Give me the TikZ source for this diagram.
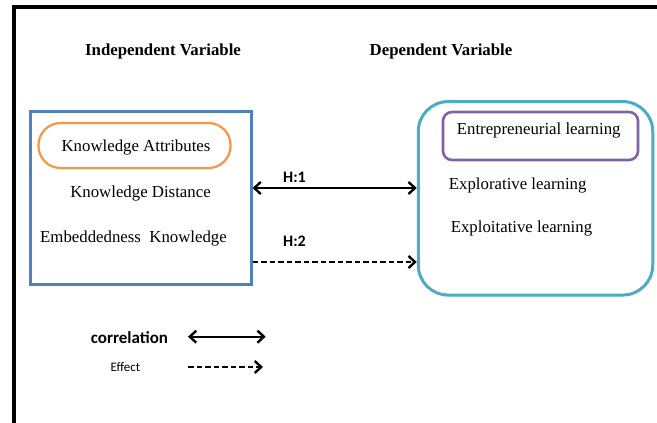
\documentclass[tikz,border=0pt]{standalone}
\usepackage{fontspec}
\setmainfont{Liberation Serif}
\newfontfamily\calfont{Carlito}
\usetikzlibrary{arrows.meta}
\definecolor{boxblue}{HTML}{4F81BD}
\definecolor{boxteal}{HTML}{4BACC6}
\definecolor{boxpurple}{HTML}{8064A2}
\definecolor{boxorange}{HTML}{F79646}
\tikzset{
  serif/.style={font=\fontsize{16.8}{20}\selectfont, inner sep=0pt},
  title/.style={font=\fontsize{16.8}{20}\selectfont\bfseries, inner sep=0pt},
  hlabel/.style={font=\calfont\fontsize{16}{19}\selectfont\bfseries, inner sep=0pt},
  corr/.style={line width=2.4pt, {Straight Barb[length=6.5pt,width=12pt]}-{Straight Barb[length=6.5pt,width=12pt]}},
  eff/.style={line width=2.4pt, dash pattern=on 5.5pt off 3pt, -{Straight Barb[length=6.5pt,width=12pt]}},
}
\begin{document}
\begin{tikzpicture}[x=1pt,y=-1pt]
\useasboundingbox (0,0) rectangle (657,423);
\fill[white] (0,0) rectangle (657,423);
% frame
\draw[line width=4pt] (13.5,423) -- (13.5,6.8) -- (657,6.8);
% titles
\node[title] (tind) at (163,51.5) {Independent Variable};
\node[title] (tdep) at (441,51.5) {Dependent Variable};
% left box
\node[draw=boxblue, line width=3pt, minimum width=221pt, minimum height=173pt, inner sep=0pt] (lbox) at (140.5,197.5) {};
\node[draw=boxorange, line width=2.2pt, minimum width=192pt, minimum height=45pt, rounded corners=22pt, inner sep=0pt] (pill) at (134.5,145.5) {};
\node[serif] (ka) at (136,147) {Knowledge Attributes};
\node[serif] (kd) at (140.5,193.5) {Knowledge Distance};
\node[serif] (ek) at (133.5,238.5) {Embeddedness\ \ Knowledge};
% right box
\node[draw=boxteal, line width=3pt, minimum width=234.5pt, minimum height=193.5pt, rounded corners=30pt, inner sep=0pt] (rbox) at (535.5,198.3) {};
\node[draw=boxpurple, line width=2.6pt, minimum width=195pt, minimum height=48pt, rounded corners=9pt, inner sep=0pt] (pbox) at (540.5,136) {};
\node[serif] (el) at (538.7,130.5) {Entrepreneurial learning};
\node[serif] (xl) at (517.7,185) {Explorative learning};
\node[serif] (xt) at (521.5,228.3) {Exploitative learning};
% hypotheses
\coordinate (y1) at (0,188);
\coordinate (y2) at (0,262);
\draw[corr] (lbox.east |- y1) -- (rbox.west |- y1);
\draw[eff] (lbox.east |- y2) -- (rbox.west |- y2);
\node[hlabel] (h1) at (294.5,177) {H:1};
\node[hlabel] (h2) at (294.5,241.5) {H:2};
% legend
\node[font=\calfont\fontsize{17}{20}\selectfont\bfseries, inner sep=0pt] (lc) at (129.5,337.5) {correlation};
\node[font=\calfont\fontsize{13}{16}\selectfont, inner sep=0pt] (le) at (125.5,367) {Effect};
\coordinate (c1) at (188,336.7);
\coordinate (c2) at (265.7,336.7);
\coordinate (e1) at (188,367);
\coordinate (e2) at (263,367);
\draw[corr] (c1) -- (c2);
\draw[eff] (e1) -- (e2);
\end{tikzpicture}
\end{document}
